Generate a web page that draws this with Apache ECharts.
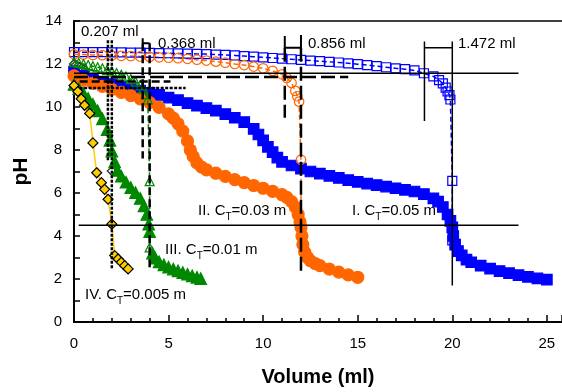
<!DOCTYPE html>
<html lang="en">
<head>
<meta charset="UTF-8">
<title>pH titration</title>
<script src="https://cdn.jsdelivr.net/npm/echarts@6/dist/echarts.min.js"></script>
<style>
  html, body { margin: 0; padding: 0; background: #fff; }
  #main { width: 562px; height: 392px; }
</style>
</head>
<body>
<div id="main"></div>
<script>
// measured curves [volume ml, pH]
var curveI = [[0,11.65],[0.5,11.45],[1,11.3],[1.5,11.17],[2,11.06],[2.5,10.96],[3,10.86],[3.5,10.76],[4,10.66],[4.5,10.56],[5,10.44],[5.5,10.32],[6,10.18],[6.5,10.06],[7,9.95],[7.5,9.83],[8,9.67],[8.5,9.5],[9,9.3],[9.5,8.98],[9.75,8.72],[10,8.45],[10.25,8.15],[10.5,7.9],[10.75,7.65],[11,7.45],[11.5,7.28],[12,7.13],[12.5,7.0],[13,6.9],[13.5,6.8],[14,6.7],[14.5,6.6],[15,6.52],[15.5,6.44],[16,6.37],[16.5,6.3],[17,6.22],[17.5,6.15],[18,6.07],[18.5,5.95],[19,5.75],[19.25,5.6],[19.5,5.35],[19.75,5.0],[19.9,4.7],[20,4.4],[20.05,4.0],[20.15,3.6],[20.3,3.3],[20.5,3.1],[20.75,2.9],[21,2.78],[21.5,2.62],[22,2.48],[22.5,2.37],[23,2.27],[23.5,2.18],[24,2.1],[24.5,2.03],[25,1.97]];
var curveII = [[0,11.45],[0.5,11.25],[1,11.1],[1.5,10.96],[2,10.82],[2.5,10.68],[3,10.53],[3.5,10.38],[4,10.2],[4.5,9.98],[5,9.68],[5.25,9.48],[5.5,9.22],[5.75,8.88],[6,8.42],[6.15,8.0],[6.3,7.7],[6.5,7.4],[6.75,7.2],[7,7.08],[7.5,6.92],[8,6.77],[8.5,6.62],[9,6.48],[9.5,6.35],[10,6.22],[10.5,6.08],[11,5.92],[11.25,5.8],[11.5,5.6],[11.7,5.35],[11.85,5.0],[11.95,4.65],[12,4.4],[12.05,4.0],[12.1,3.6],[12.2,3.25],[12.35,3.0],[12.5,2.85],[12.75,2.72],[13,2.62],[13.5,2.46],[14,2.32],[14.5,2.19],[15,2.08]];
var curveIII = [[0,11.05],[0.25,10.85],[0.5,10.63],[0.75,10.4],[1,10.12],[1.25,9.82],[1.5,9.45],[1.75,8.95],[1.9,8.45],[2,7.95],[2.15,7.45],[2.3,7.05],[2.5,6.78],[2.75,6.5],[3,6.25],[3.25,6.02],[3.5,5.75],[3.7,5.4],[3.85,5.0],[3.95,4.55],[4,4.2],[4.15,3.2],[4.3,2.97],[4.5,2.8],[4.75,2.66],[5,2.55],[5.25,2.46],[5.5,2.38],[5.75,2.3],[6,2.22],[6.25,2.15],[6.5,2.08],[6.7,2.02]];
var curveIV = [[0,11.0],[0.2,10.72],[0.38,10.38],[0.56,10.08],[0.83,9.7],[1.0,8.33],[1.2,6.94],[1.45,6.48],[1.62,6.17],[1.8,5.71],[2.0,4.55],[2.15,3.09],[2.33,2.93],[2.5,2.78],[2.68,2.62],[2.86,2.47]];

// model curves
var modelI = [[0,12.55],[0.5,12.55],[1,12.55],[1.5,12.55],[2,12.54],[2.5,12.54],[3,12.53],[3.5,12.53],[4,12.52],[4.5,12.51],[5,12.5],[5.5,12.49],[6,12.48],[6.5,12.47],[7,12.46],[7.5,12.44],[8,12.42],[8.5,12.4],[9,12.37],[9.5,12.34],[10,12.31],[10.5,12.28],[11,12.25],[11.5,12.22],[12,12.19],[12.5,12.16],[13,12.13],[13.5,12.1],[14,12.07],[14.5,12.03],[15,11.99],[15.5,11.95],[16,11.9],[16.5,11.85],[17,11.8],[17.5,11.76],[18,11.7],[18.5,11.57],[19,11.42],[19.3,11.25],[19.5,11.1],[19.65,10.9],[19.75,10.72],[19.85,10.55],[19.9,10.35],[20,6.56],[20,4.4],[20,3.8]];
var modelII = [[0,12.45],[0.5,12.44],[1,12.42],[1.5,12.41],[2,12.4],[2.5,12.38],[3,12.37],[3.5,12.35],[4,12.33],[4.5,12.31],[5,12.29],[5.5,12.27],[6,12.24],[6.5,12.2],[7,12.16],[7.5,12.11],[8,12.06],[8.5,12.0],[9,11.95],[9.5,11.88],[10,11.8],[10.5,11.68],[11,11.52],[11.25,11.35],[11.5,11.12],[11.7,10.75],[11.8,10.5],[11.9,10.25],[12,7.55],[12,4.45]];
var modelIII = [[0,12.1],[0.25,12.05],[0.5,12.0],[0.75,11.95],[1,11.9],[1.25,11.85],[1.5,11.8],[1.75,11.73],[2,11.66],[2.25,11.58],[2.5,11.5],[2.75,11.41],[3,11.3],[3.25,11.18],[3.5,11.02],[3.65,10.85],[3.8,10.6],[3.9,10.35],[4,6.55],[4,3.47]];
var modelIV = [[0,12.0],[0.1,11.95],[0.2,11.9],[0.3,11.85],[0.4,11.8],[0.5,11.75],[0.6,11.7],[2.0,7.02],[2.0,4.55]];

// reference lines
var hLineI = [[0,11.57],[23.5,11.57]];
var hLineII = [[0,11.4],[14.5,11.4]];
var hLineIII = [[0.3,11.19],[5.1,11.19]];
var hLineIV = [[0.3,10.88],[5.9,10.88]];
var hLineLow = [[0.25,4.5],[23.5,4.5]];
var vIVleft = [[1.793,13.1],[1.793,7.5]];
var vIVright = [[2.0,13.1],[2.0,2.5]];
var capIII = [[3.632,13.2],[3.632,12.96],[4.0,12.96]];
var vIIIleft = [[3.632,12.96],[3.632,7.6]];
var vIIIright = [[4.0,12.96],[4.0,2.4]];
var capII = [[11.144,13.3],[11.144,12.76],[12,12.76],[12,13.35]];
var vIIleft = [[11.144,12.76],[11.144,9.5]];
var vIIright = [[12,12.76],[12,2.2]];
var vIleft = [[18.528,13.05],[18.528,9.35]];
var capI = [[18.528,12.76],[20,12.76]];
var vIright = [[20,13.05],[20,1.7]];

var xRange = [0, 25.8];
var yRange = [0, 14];

var FONT = 'Liberation Sans';
var chart = echarts.init(document.getElementById('main'));

function markers(data, symbol, size, fill, border, lineColor, lineType, z) {
  return {
    type: 'line', data: data, symbol: symbol, symbolSize: size, z: z || 2,
    itemStyle: { color: fill, borderColor: border, borderWidth: 1.2 },
    lineStyle: { color: lineColor || border, width: lineColor ? 1.5 : 0, type: lineType || 'solid' },
    silent: true
  };
}
function ref(data, type, width) {
  return {
    type: 'line', data: data, symbol: 'none', z: 6, silent: true,
    lineStyle: { color: '#000', width: width, type: type, cap: 'butt' }
  };
}
function ctLabel(text, x, y) {
  return {
    type: 'text', x: x, y: y, z: 10,
    style: {
      text: text, fontFamily: FONT, fontSize: 15, fill: '#000', lineHeight: 22,
      verticalAlign: 'middle',
      rich: { s: { fontFamily: FONT, fontSize: 10, fill: '#000', verticalAlign: 'bottom' } }
    }
  };
}
function mlLabel(text, x, y) {
  return { type: 'text', x: x, y: y, z: 10,
    style: { text: text, fontFamily: FONT, fontSize: 15, fill: '#000', verticalAlign: 'middle' } };
}

var dotted = [3, 1.5], dashed = [8, 4], longDash = [14, 5];

chart.setOption({
  animation: false,
  grid: { left: 74, right: 0, top: 21, bottom: 67 },
  xAxis: [{
    // minor ticks every 1 ml, labels every 5
    type: 'value', min: xRange[0], max: xRange[1], interval: 1,
    name: 'Volume (ml)', nameLocation: 'middle', nameGap: 45,
    nameTextStyle: { fontFamily: FONT, fontSize: 20, fontWeight: 'bold', color: '#000' },
    axisLine: { lineStyle: { color: '#000', width: 2 } },
    axisTick: { inside: true, length: 4, lineStyle: { color: '#000', width: 1.5 } },
    axisLabel: { color: '#000', fontFamily: FONT, fontSize: 15, margin: 14, showMaxLabel: false,
      formatter: function (v) { return v % 5 === 0 ? v : ''; } },
    splitLine: { show: false }
  }, {
    // top frame line
    type: 'value', position: 'top', min: xRange[0], max: xRange[1],
    axisLine: { show: true, onZero: false, lineStyle: { color: '#000', width: 1.5 } },
    axisTick: { show: false }, axisLabel: { show: false }, splitLine: { show: false }
  }, {
    // longer ticks at every 5 ml
    type: 'value', position: 'bottom', min: xRange[0], max: xRange[1], interval: 5,
    axisLine: { show: false },
    axisTick: { inside: true, length: 7, lineStyle: { color: '#000', width: 1.5 } },
    axisLabel: { show: false }, splitLine: { show: false }
  }],
  yAxis: {
    type: 'value', min: yRange[0], max: yRange[1], interval: 2,
    name: 'pH', nameLocation: 'middle', nameGap: 42,
    nameTextStyle: { fontFamily: FONT, fontSize: 21, fontWeight: 'bold', color: '#000' },
    axisLine: { show: true, lineStyle: { color: '#000', width: 2 } },
    axisTick: { inside: true, length: 6, lineStyle: { color: '#000', width: 1.5 } },
    minorTick: { show: true, splitNumber: 2, length: 6, lineStyle: { color: '#000', width: 1.5 } },
    axisLabel: { color: '#000', fontFamily: FONT, fontSize: 15, margin: 12 },
    splitLine: { show: false }
  },
  series: [
    { type: 'scatter', data: modelIV, symbol: 'diamond', symbolSize: 9, z: 1, silent: true,
      itemStyle: { color: '#fff', borderColor: '#000', borderWidth: 1.3 } },
    markers(curveI, 'rect', 10.5, '#0000ff', '#0000ff', null, null, 2),
    markers(modelI, 'rect', 9, 'rgba(0,0,0,0)', '#0000ff', '#0000ff', [5, 3], 3),
    markers(curveII, 'circle', 12, '#ff6600', '#ff6600', null, null, 2),
    markers(modelII, 'circle', 9.5, 'rgba(0,0,0,0)', '#ff6600', '#ff6600', [5, 3], 3),
    markers(curveIII, 'triangle', 11.5, '#008800', '#008800', null, null, 2),
    markers(modelIII, 'triangle', 9, 'rgba(0,0,0,0)', '#008800', '#008800', [5, 3], 3),
    markers(curveIV, 'diamond', 10, '#ffcc00', '#000', '#ffcc00', 'solid', 4),
    ref(hLineI, 'solid', 1.5),
    ref(hLineII, longDash, 2.5),
    ref(hLineIII, dashed, 2.5),
    ref(hLineIV, dotted, 2.5),
    ref(hLineLow, 'solid', 1.5),
    ref(vIVleft, dotted, 2.5),
    ref(vIVright, dotted, 2.5),
    ref(capIII, 'solid', 2),
    ref(vIIIleft, dashed, 2.5),
    ref(vIIIright, dashed, 2.5),
    ref(capII, 'solid', 2),
    ref(vIIleft, longDash, 2.5),
    ref(vIIright, longDash, 2.5),
    ref(vIleft, 'solid', 1.5),
    ref(capI, 'solid', 1.5),
    ref(vIright, 'solid', 1.5)
  ],
  graphic: [
    mlLabel('0.207 ml', 81, 32),
    mlLabel('0.368 ml', 158, 44),
    mlLabel('0.856 ml', 308, 44),
    mlLabel('1.472 ml', 458, 44),
    ctLabel('I. C{s|T}=0.05 m', 352, 211),
    ctLabel('II. C{s|T}=0.03 m', 198, 211),
    ctLabel('III. C{s|T}=0.01 m', 165, 250),
    ctLabel('IV. C{s|T}=0.005 m', 85, 295)
  ]
});
</script>
</body>
</html>
